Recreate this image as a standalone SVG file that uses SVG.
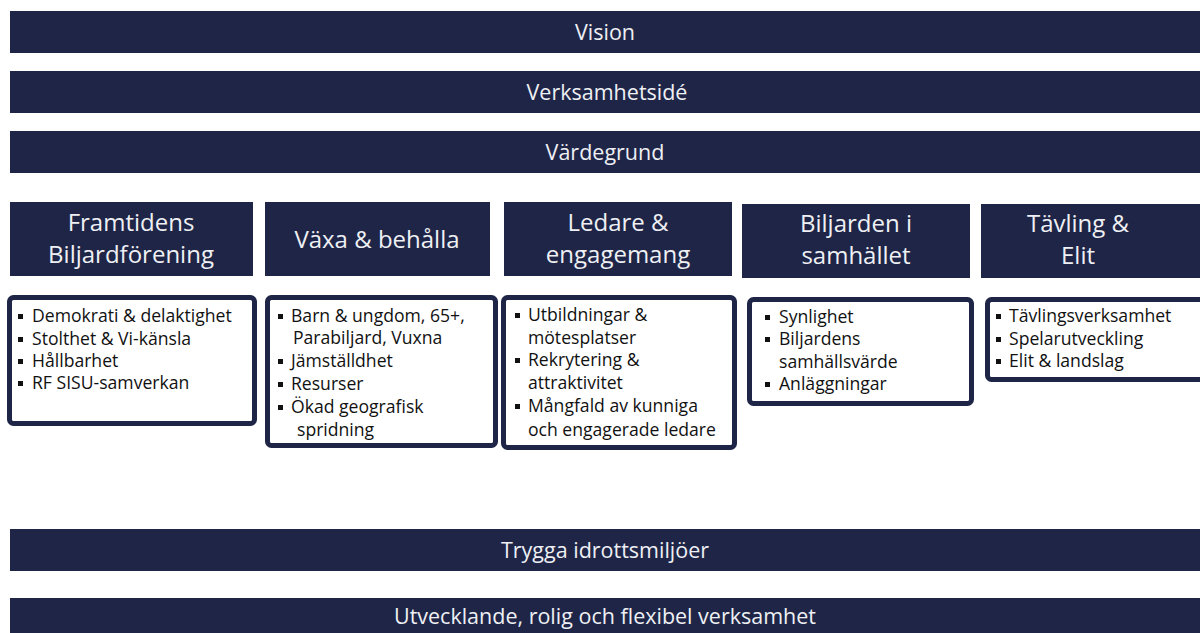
<svg xmlns="http://www.w3.org/2000/svg" width="1200" height="633" viewBox="0 0 1200 633">
<style>
.bar{fill:#1f2547;}
.bt{fill:#eef0f4;font-family:"Open Sans","Noto Sans",sans-serif;font-size:21.5px;text-anchor:middle;}
.ht{fill:#eef0f4;font-family:"Open Sans","Noto Sans",sans-serif;font-size:24px;text-anchor:middle;}
.box{fill:#ffffff;stroke:#1f2547;stroke-width:5;}
.ct{fill:#111111;font-family:"Open Sans","Noto Sans",sans-serif;font-size:17.6px;}
.bl{fill:#111111;}
</style>
<rect width="1200" height="633" fill="#ffffff"/>
<g id="vision"><rect class="bar" x="10" y="11" width="1190" height="42"/><text class="bt" x="605" y="40">Vision</text></g>
<g id="verksamhetside"><rect class="bar" x="10" y="71" width="1190" height="42"/><text class="bt" x="607" y="100">Verksamhetsidé</text></g>
<g id="vardegrund"><rect class="bar" x="10" y="131" width="1190" height="42"/><text class="bt" x="605" y="160">Värdegrund</text></g>

<g id="h1"><rect class="bar" x="10" y="202" width="243" height="74"/><text class="ht" x="131" y="231">Framtidens</text><text class="ht" x="131" y="263">Biljardförening</text></g>
<g id="h2"><rect class="bar" x="265" y="202" width="225" height="74"/><text class="ht" x="377" y="248">Växa &amp; behålla</text></g>
<g id="h3"><rect class="bar" x="504" y="202" width="228" height="74"/><text class="ht" x="618" y="231">Ledare &amp;</text><text class="ht" x="618" y="263">engagemang</text></g>
<g id="h4"><rect class="bar" x="742" y="204" width="228" height="74"/><text class="ht" x="856" y="232">Biljarden i</text><text class="ht" x="856" y="264">samhället</text></g>
<g id="h5"><rect class="bar" x="981" y="204" width="219" height="74"/><text class="ht" x="1078" y="232">Tävling &amp;</text><text class="ht" x="1078" y="264">Elit</text></g>

<g id="c1"><rect class="box" x="9.5" y="297.5" width="245" height="126" rx="4"/>
<rect class="bl" x="18" y="314" width="5" height="5"/><text class="ct" x="32" y="322">Demokrati &amp; delaktighet</text>
<rect class="bl" x="18" y="337" width="5" height="5"/><text class="ct" x="32" y="345">Stolthet &amp; Vi-känsla</text>
<rect class="bl" x="18" y="359" width="5" height="5"/><text class="ct" x="32" y="367">Hållbarhet</text>
<rect class="bl" x="18" y="381" width="5" height="5"/><text class="ct" x="32" y="389">RF SISU-samverkan</text>
</g>
<g id="c2"><rect class="box" x="267.5" y="297.5" width="228" height="148" rx="4"/>
<rect class="bl" x="278" y="314" width="5" height="5"/><text class="ct" x="291" y="322">Barn &amp; ungdom, 65+,</text>
<text class="ct" x="293" y="344">Parabiljard, Vuxna</text>
<rect class="bl" x="278" y="359" width="5" height="5"/><text class="ct" x="291" y="367">Jämställdhet</text>
<rect class="bl" x="278" y="382" width="5" height="5"/><text class="ct" x="291" y="390">Resurser</text>
<rect class="bl" x="278" y="405" width="5" height="5"/><text class="ct" x="291" y="413">Ökad geografisk</text>
<text class="ct" x="297" y="436">spridning</text>
</g>
<g id="c3"><rect class="box" x="503.5" y="297.5" width="231" height="150" rx="4"/>
<rect class="bl" x="515" y="313" width="5" height="5"/><text class="ct" x="528" y="321">Utbildningar &amp;</text>
<text class="ct" x="528" y="344">mötesplatser</text>
<rect class="bl" x="515" y="358" width="5" height="5"/><text class="ct" x="528" y="366">Rekrytering &amp;</text>
<text class="ct" x="528" y="389">attraktivitet</text>
<rect class="bl" x="515" y="404" width="5" height="5"/><text class="ct" x="528" y="412">Mångfald av kunniga</text>
<text class="ct" x="528" y="436">och engagerade ledare</text>
</g>
<g id="c4"><rect class="box" x="749.5" y="299.5" width="222" height="104" rx="4"/>
<rect class="bl" x="765" y="315" width="5" height="5"/><text class="ct" x="779" y="323">Synlighet</text>
<rect class="bl" x="765" y="337" width="5" height="5"/><text class="ct" x="779" y="345">Biljardens</text>
<text class="ct" x="779" y="368">samhällsvärde</text>
<rect class="bl" x="765" y="382" width="5" height="5"/><text class="ct" x="779" y="390">Anläggningar</text>
</g>
<g id="c5"><rect class="box" x="987.5" y="299.5" width="220" height="80" rx="4"/>
<rect class="bl" x="996" y="314" width="5" height="5"/><text class="ct" x="1009" y="322">Tävlingsverksamhet</text>
<rect class="bl" x="996" y="337" width="5" height="5"/><text class="ct" x="1009" y="345">Spelarutveckling</text>
<rect class="bl" x="996" y="359" width="5" height="5"/><text class="ct" x="1009" y="367">Elit &amp; landslag</text>
</g>

<g id="trygga"><rect class="bar" x="10" y="529" width="1190" height="42"/><text class="bt" x="605" y="558">Trygga idrottsmiljöer</text></g>
<g id="utvecklande"><rect class="bar" x="10" y="598" width="1190" height="35"/><text class="bt" x="605" y="624">Utvecklande, rolig och flexibel verksamhet</text></g>
<g id="connectors"></g>
</svg>
